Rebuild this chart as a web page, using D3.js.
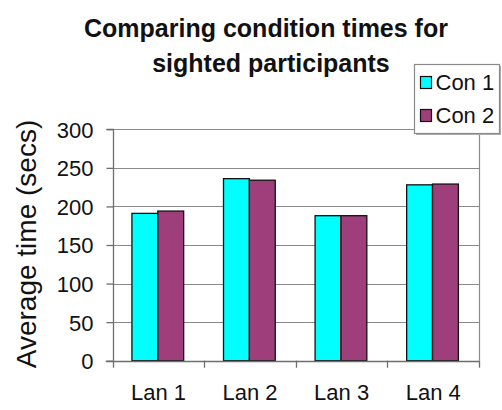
<!DOCTYPE html>
<html>
<head>
<meta charset="utf-8">
<script src="https://cdn.jsdelivr.net/npm/d3@7"></script>
<style>
  html, body { margin: 0; padding: 0; background: #fff; }
  svg { display: block; font-family: "Liberation Sans", Arial, sans-serif; }
</style>
</head>
<body>
<svg id="chart" width="502" height="410"></svg>
<script>
// Data
const categories = ["Lan 1", "Lan 2", "Lan 3", "Lan 4"];
const seriesNames = ["Con 1", "Con 2"];
const con1 = [191, 236, 188, 228];
const con2 = [194, 234, 188, 229];
const yTicks = [0, 50, 100, 150, 200, 250, 300];
const seriesColors = ["#00ffff", "#9e3f7b"];

const values = [con1, con2];
const svg = d3.select("#chart");
const FONT = "'Liberation Sans', Arial, sans-serif";

const plot = { left: 112.7, right: 479, top: 129.3, bottom: 360.7 };

const x0 = d3.scaleBand().domain(categories).range([plot.left, plot.right]).padding(0);
const x1 = d3.scaleBand().domain(seriesNames)
  .range([x0.bandwidth() * 0.21, x0.bandwidth() * 0.775]).padding(0);
const y = d3.scaleLinear().domain([0, 300]).range([plot.bottom, plot.top]);

// Horizontal gridlines
svg.append("g")
  .selectAll("line")
  .data(yTicks)
  .join("line")
  .attr("x1", plot.left).attr("x2", plot.right)
  .attr("y1", d => Math.round(y(d)) + 0.5).attr("y2", d => Math.round(y(d)) + 0.5)
  .attr("stroke", "#8a8a8a").attr("stroke-width", 1.2);

// Right border of the plot area
svg.append("line")
  .attr("x1", Math.round(plot.right) + 0.5).attr("x2", Math.round(plot.right) + 0.5)
  .attr("y1", plot.top).attr("y2", plot.bottom)
  .attr("stroke", "#8a8a8a").attr("stroke-width", 1.2);

// Bars
const groups = svg.append("g")
  .selectAll("g")
  .data(categories)
  .join("g")
  .attr("transform", d => `translate(${x0(d)},0)`);

groups.selectAll("rect")
  .data((c, i) => seriesNames.map((s, k) => ({ s, v: values[k][i], k })))
  .join("rect")
  .attr("x", d => x1(d.s))
  .attr("y", d => y(d.v))
  .attr("width", x1.bandwidth())
  .attr("height", d => y(0) - y(d.v))
  .attr("fill", d => seriesColors[d.k])
  .attr("stroke", "#111")
  .attr("stroke-width", 1.3);

// Y axis
const yAxis = d3.axisLeft(y).tickValues(yTicks).tickSize(7).tickPadding(13);
const yg = svg.append("g")
  .attr("transform", `translate(${Math.round(plot.left) + 0.5},0)`)
  .call(yAxis);
yg.select(".domain").attr("stroke", "#6e6e6e").attr("stroke-width", 1.3)
  .attr("d", `M-7,${plot.top}H0V${plot.bottom}`);
yg.selectAll(".tick line").attr("stroke", "#6e6e6e").attr("stroke-width", 1.3);
yg.selectAll(".tick text").attr("font-size", 22).attr("fill", "#111")
  .attr("font-family", FONT).attr("dy", "0.36em");

// X axis
const boundaries = d3.range(categories.length + 1).map(i => plot.left + i * x0.bandwidth());
const xg = svg.append("g");
xg.append("line")
  .attr("x1", plot.left - 7).attr("x2", plot.right)
  .attr("y1", Math.round(plot.bottom) + 0.5).attr("y2", Math.round(plot.bottom) + 0.5)
  .attr("stroke", "#6e6e6e").attr("stroke-width", 1.3);
xg.selectAll("line.tk")
  .data(boundaries)
  .join("line")
  .attr("class", "tk")
  .attr("x1", d => Math.round(d) + 0.5).attr("x2", d => Math.round(d) + 0.5)
  .attr("y1", plot.bottom).attr("y2", plot.bottom + 7)
  .attr("stroke", "#6e6e6e").attr("stroke-width", 1.3);
xg.selectAll("text")
  .data(categories)
  .join("text")
  .attr("x", d => x0(d) + x0.bandwidth() / 2)
  .attr("y", 400)
  .attr("text-anchor", "middle")
  .attr("font-size", 22)
  .attr("fill", "#111")
  .text(d => d);

// Y axis title
svg.append("text")
  .attr("transform", `translate(36,${244}) rotate(-90)`)
  .attr("text-anchor", "middle")
  .attr("font-size", 28)
  .attr("fill", "#111")
  .text("Average time (secs)");

// Chart title
const title = svg.append("text")
  .attr("text-anchor", "middle")
  .attr("font-size", 25)
  .attr("font-weight", "bold")
  .attr("fill", "#111");
title.append("tspan").attr("x", 266).attr("y", 37).text("Comparing condition times for");
title.append("tspan").attr("x", 271).attr("y", 72).text("sighted participants");

// Legend
const legend = svg.append("g").attr("transform", "translate(414.5,64.5)");
legend.append("rect")
  .attr("x", 1.5).attr("y", 1.5).attr("width", 85).attr("height", 69)
  .attr("fill", "#b0b0b0");
legend.append("rect")
  .attr("width", 85).attr("height", 69)
  .attr("fill", "#fff").attr("stroke", "#8a8a8a").attr("stroke-width", 1.2);
const items = legend.selectAll("g.item")
  .data(seriesNames)
  .join("g")
  .attr("class", "item")
  .attr("transform", (d, i) => `translate(0,${i * 33})`);
items.append("rect")
  .attr("x", 6).attr("y", 12).attr("width", 11).attr("height", 12)
  .attr("fill", (d, i) => seriesColors[i])
  .attr("stroke", "#111").attr("stroke-width", 1.2);
items.append("text")
  .attr("x", 21).attr("y", 25.5)
  .attr("font-size", 22)
  .attr("fill", "#111")
  .text(d => d);
</script>
</body>
</html>
